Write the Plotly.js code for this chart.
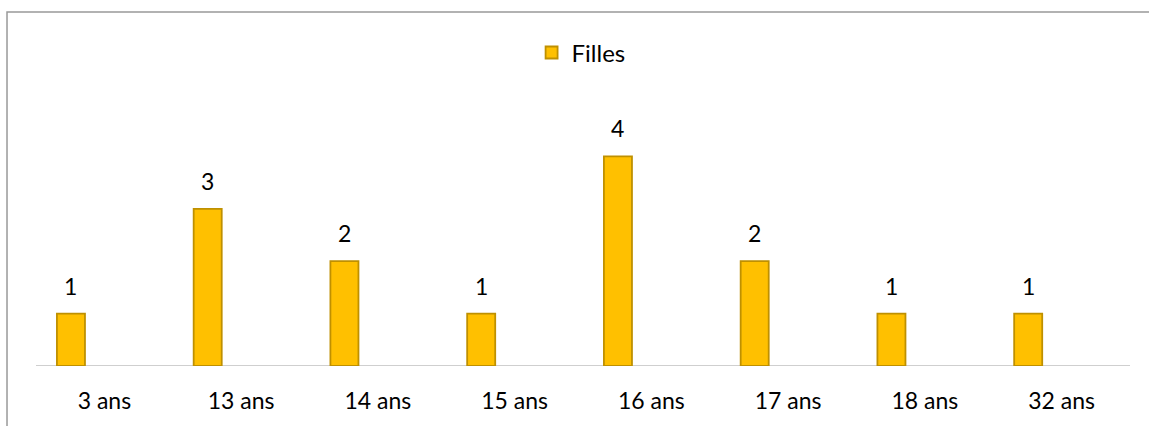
<!DOCTYPE html>
<html><head><meta charset="utf-8">
<script src="https://cdn.plot.ly/plotly-3.0.1.min.js"></script>
<style>html,body{margin:0;padding:0;background:#fff;}#chart{width:1149px;height:426px;}</style>
</head><body><div id="chart"></div>
<script>
const categories = ["3 ans","13 ans","14 ans","15 ans","16 ans","17 ans","18 ans","32 ans"];
const filles = [1,3,2,1,4,2,1,1];
const seriesName = "Filles";

const FONT = "Lato, Open Sans, sans-serif";
const barOffset = -0.347, barWidth = 0.205;

const trace = {
  type: "bar", name: seriesName, x: categories, y: filles,
  offset: barOffset, width: barWidth,
  marker: {color: "#FFC000", line: {color: "#BF9000", width: 1.8}},
  hoverinfo: "skip"
};

const annotations = categories.map((c, i) => ({
  x: c, y: filles[i], xref: "x", yref: "y",
  text: String(filles[i]), showarrow: false,
  xshift: -33.4, yshift: 12, yanchor: "bottom",
  font: {family: FONT, size: 23, color: "#000"}
}));

const layout = {
  width: 1149, height: 426,
  margin: {l: 36, r: 19, t: 104, b: 60},
  paper_bgcolor: "#fff", plot_bgcolor: "#fff",
  showlegend: true,
  legend: {x: 0.453, xanchor: "left", y: 1.195, yanchor: "middle",
           font: {family: FONT, size: 24, color: "#000"}, bgcolor: "rgba(0,0,0,0)"},
  xaxis: {type: "category", range: [-0.5, 7.5], showgrid: false, zeroline: false,
          showline: false, ticks: "", ticklabelstandoff: 19,
          tickfont: {family: FONT, size: 23, color: "#000"}, fixedrange: true},
  yaxis: {range: [0, 5], showgrid: false, zeroline: false, showline: false,
          showticklabels: false, ticks: "", fixedrange: true},
  annotations: annotations,
  shapes: [
    {type: "line", xref: "paper", yref: "y", x0: 0, x1: 1, y0: 0, y1: 0,
     line: {color: "#BFBFBF", width: 1.5}, layer: "below"},
    {type: "rect", xref: "paper", yref: "paper", x0: -0.0265, x1: 1.2, y0: -0.5, y1: 1.351,
     line: {color: "#999999", width: 1.5}, fillcolor: "rgba(0,0,0,0)"}
  ]
};

Plotly.newPlot("chart", [trace], layout, {displayModeBar: false, staticPlot: true});
</script></body></html>
